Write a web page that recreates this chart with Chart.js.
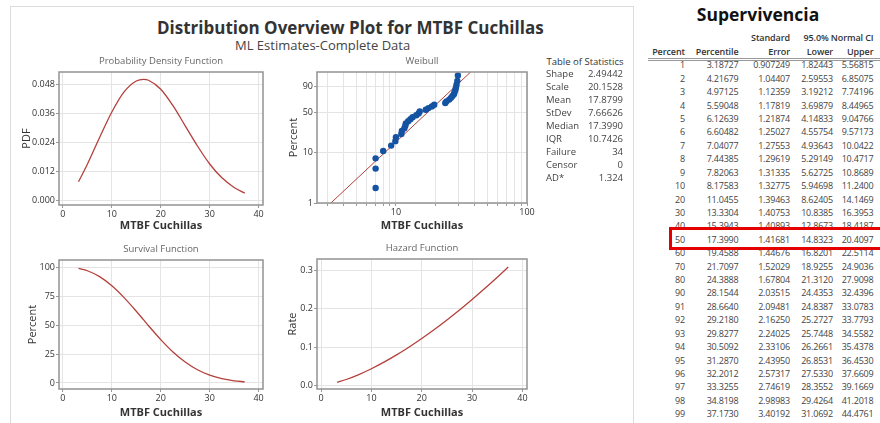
<!DOCTYPE html>
<html>
<head>
<meta charset="utf-8">
<script src="https://cdn.jsdelivr.net/npm/chart.js@4.4.1/dist/chart.umd.min.js"></script>
<style>
  body { margin: 0; background: #fff; font-family: 'Open Sans', sans-serif; }
  #page { position: relative; width: 880px; height: 423px; overflow: hidden; }
  .frame { position: absolute; left: 10px; top: 6px; width: 622px; height: 430px; border: 1px solid #dcdcdc; }
  .t { position: absolute; white-space: nowrap; line-height: 1.2; }
  .c { transform: translate(-50%, -50%); }
  .r { transform: translate(-100%, -50%); }
  .l { transform: translate(0, -50%); }
  .box { position: absolute; }
  #redbox { position: absolute; left: 668.5px; top: 227px; width: 220px; height: 16.5px; border: 3.5px solid #e50000; z-index: 5; }
</style>
</head>
<body>
<div id="page">
  <div class="frame"></div>
  <div class="t l" style="left:157px;top:28px;font-size:17px;font-weight:bold;color:#333">Distribution Overview Plot for MTBF Cuchillas</div>
  <div class="t l" style="left:235px;top:46px;font-size:13px;color:#444">ML Estimates-Complete Data</div>
  <div class="box"><canvas id="pdfChart"></canvas></div>
  <div class="box"><canvas id="weibullChart"></canvas></div>
  <div class="box"><canvas id="survChart"></canvas></div>
  <div class="box"><canvas id="hazChart"></canvas></div>
  <div id="redbox"></div>
</div>
<script>
// Curve values (Weibull fit)
const mtbfX = [3.19, 5, 7.5, 10, 12.5, 15, 16.5, 17.5, 20, 22.5, 25, 27.5, 30, 32.5, 35, 37.17];
const pdfVals = [0.0078, 0.0150, 0.0260, 0.0365, 0.0448, 0.0493, 0.0500, 0.0496, 0.0459, 0.0391, 0.0308, 0.0225, 0.0151, 0.0094, 0.0054, 0.0031];
const survVals = [99.0, 97.0, 91.9, 84.0, 73.8, 62.0, 54.5, 49.5, 37.5, 26.8, 18.1, 11.4, 6.7, 3.7, 1.9, 1.0];
const hazVals = [0.0079, 0.0154, 0.0283, 0.0435, 0.0606, 0.0796, 0.0918, 0.1002, 0.1224, 0.1459, 0.1708, 0.1969, 0.2243, 0.2528, 0.2824, 0.3089];

// Weibull probability plot
const failTimes = [7.0, 7.0, 7.0, 8.0, 9.2, 9.9, 10.0, 11.0, 11.1, 11.6, 11.8, 11.9, 12.4, 12.9, 13.4, 14.3, 14.9, 15.2,
                   16.9, 17.7, 18.8, 19.6, 23.8, 24.3, 25.5, 26.3, 27.0, 27.7, 28.0, 28.4, 28.7, 29.0, 29.4, 29.7];
const rankPct = [2.0, 4.9, 7.8, 10.8, 13.7, 16.6, 19.5, 22.4, 25.3, 28.2, 31.1, 34.0, 36.9, 39.8, 42.7, 45.6, 48.5, 51.5,
                 54.4, 57.3, 60.2, 63.1, 66.0, 68.9, 71.8, 74.7, 77.6, 80.5, 83.4, 86.3, 89.2, 92.2, 95.1, 98.0];
const fitX = [3.19, 37.17];
const fitPct = [1, 99];

// Tick labels
const mtbfTicks = [0, 10, 20, 30, 40];
const pdfTicks = [0, 0.012, 0.024, 0.036, 0.048];
const survTicks = [0, 25, 50, 75, 100];
const hazTicks = [0, 0.1, 0.2, 0.3];
const wbXTicks = [3, 4, 5, 6, 7, 8, 9, 10, 20, 30, 40, 50, 60, 70, 80, 90, 100];
const wbXLabels = [10, 100];
const wbYTicks = [1, 10, 50, 90];

// Table of Statistics
const statNames = ['Shape', 'Scale', 'Mean', 'StDev', 'Median', 'IQR', 'Failure', 'Censor', 'AD*'];
const statVals = ['2.49442', '20.1528', '17.8799', '7.66626', '17.3990', '10.7426', '34', '0', '1.324'];

// Supervivencia table
const pctRows = ['1', '2', '3', '4', '5', '6', '7', '8', '9', '10', '20', '30', '40', '50', '60', '70', '80', '90', '91', '92', '93', '94', '95', '96', '97', '98', '99'];
const percentile = ['3.18727', '4.21679', '4.97125', '5.59048', '6.12639', '6.60482', '7.04077', '7.44385', '7.82063', '8.17583', '11.0455', '13.3304', '15.3943', '17.3990', '19.4588', '21.7097', '24.3888', '28.1544', '28.6640', '29.2180', '29.8277', '30.5092', '31.2870', '32.2012', '33.3255', '34.8198', '37.1730'];
const stdErr = ['0.907249', '1.04407', '1.12359', '1.17819', '1.21874', '1.25027', '1.27553', '1.29619', '1.31335', '1.32775', '1.39463', '1.40753', '1.40893', '1.41681', '1.44676', '1.52029', '1.67804', '2.03515', '2.09481', '2.16250', '2.24025', '2.33106', '2.43950', '2.57317', '2.74619', '2.98983', '3.40192'];
const lowerCI = ['1.82443', '2.59553', '3.19212', '3.69879', '4.14833', '4.55754', '4.93643', '5.29149', '5.62725', '5.94698', '8.62405', '10.8385', '12.8673', '14.8323', '16.8201', '18.9255', '21.3120', '24.4353', '24.8387', '25.2727', '25.7448', '26.2661', '26.8531', '27.5330', '28.3552', '29.4264', '31.0692'];
const upperCI = ['5.56815', '6.85075', '7.74196', '8.44965', '9.04766', '9.57173', '10.0422', '10.4717', '10.8689', '11.2400', '14.1469', '16.3953', '18.4187', '20.4097', '22.5114', '24.9036', '27.9098', '32.4396', '33.0783', '33.7793', '34.5582', '35.4378', '36.4530', '37.6609', '39.1669', '41.2018', '44.4761'];

Chart.defaults.font.family = "'Open Sans', sans-serif";
Chart.defaults.color = '#333';

// Weibull probability scale (percent on ln(-ln(1-p)) axis)
const wbT = p => Math.log(-Math.log(1 - p / 100));
class WeibullScale extends Chart.Scale {
    determineDataLimits() {
        this.min = this.options.min;
        this.max = this.options.max;
    }
    buildTicks() {
        return wbYTicks.map(v => ({ value: v }));
    }
    configure() {
        super.configure();
        this._startValue = wbT(this.min);
        this._valueRange = wbT(this.max) - this._startValue;
    }
    getLabelForValue(v) { return String(v); }
    getPixelForValue(v) {
        return this.getPixelForDecimal((wbT(v) - this._startValue) / this._valueRange);
    }
    getValueForPixel(px) {
        const t = this._startValue + this.getDecimalForPixel(px) * this._valueRange;
        return 100 * (1 - Math.exp(-Math.exp(t)));
    }
}
WeibullScale.id = 'weibull';
WeibullScale.defaults = {};
Chart.register(WeibullScale);

const framePlugin = {
    id: 'frame',
    afterDraw(chart) {
        const a = chart.chartArea, ctx = chart.ctx;
        ctx.save();
        ctx.strokeStyle = '#929292';
        ctx.lineWidth = 1.5;
        ctx.strokeRect(a.left, a.top, a.right - a.left, a.bottom - a.top);
        ctx.restore();
    }
};

const red = '#b4403c';
const gridStyle = { color: '#e4e4e4', tickColor: '#999', tickLength: 3 };

function panel(id, box, title, scales, datasets) {
    const cv = document.getElementById(id);
    const cl = box.l - 50, ct = box.t - 20;
    const w = box.r + 10 - cl, h = box.b + 33 - ct;
    cv.parentElement.style.cssText = `position:absolute;left:${cl}px;top:${ct}px;width:${w}px;height:${h}px`;
    cv.width = w; cv.height = h;
    scales.x.afterFit = s => { s.height = 33; };
    scales.y.afterFit = s => { s.width = 50; };
    for (const k of ['x', 'y']) {
        scales[k].grid = gridStyle;
        scales[k].border = { display: false };
        scales[k].ticks = Object.assign({ font: { size: 9 }, color: '#333', padding: 1, autoSkip: false, maxRotation: 0 }, scales[k].ticks);
    }
    new Chart(cv, {
        type: 'line',
        data: { datasets },
        options: {
            responsive: false,
            animation: false,
            layout: { padding: { left: 0, right: 10, top: 0, bottom: 0 } },
            plugins: {
                legend: { display: false },
                tooltip: { enabled: false },
                title: {
                    display: true, text: title, fullSize: false, color: '#666',
                    font: { size: 9.5, weight: 'normal', lineHeight: 1.2 }, padding: { top: 4, bottom: 4.6 }
                }
            },
            scales
        },
        plugins: [framePlugin]
    });
}

const curve = vals => ({
    data: mtbfX.map((x, i) => ({ x, y: vals[i] })),
    borderColor: red, borderWidth: 1.3, pointRadius: 0, cubicInterpolationMode: 'monotone', fill: false
});
const xTitle = pb => ({ display: true, text: 'MTBF Cuchillas', color: '#333', font: { size: 11, weight: 'bold', lineHeight: 1.2 }, padding: { top: 0, bottom: pb } });
const yTitle = (text, pt) => ({ display: true, text, color: '#333', font: { size: 11, weight: 'normal', lineHeight: 1.2 }, padding: { top: pt, bottom: 0 } });
const mtbfAxis = pb => ({
    type: 'linear', min: -0.8, max: 40.9,
    afterBuildTicks: s => { s.ticks = mtbfTicks.map(v => ({ value: v })); },
    title: xTitle(pb)
});

// Probability Density Function
panel('pdfChart', { l: 59, t: 72, r: 263, b: 205 }, 'Probability Density Function', {
    x: mtbfAxis(5.4),
    y: {
        type: 'linear', min: -0.0018, max: 0.053,
        afterBuildTicks: s => { s.ticks = pdfTicks.map(v => ({ value: v })); },
        ticks: { callback: v => v.toFixed(3) },
        title: yTitle('PDF', 11.4)
    }
}, [curve(pdfVals)]);

// Weibull probability plot
panel('weibullChart', { l: 317, t: 72, r: 527, b: 203 }, 'Weibull', {
    x: {
        type: 'logarithmic', min: 2.5, max: 100,
        afterBuildTicks: s => { s.ticks = wbXTicks.map(v => ({ value: v })); },
        ticks: { callback: v => wbXLabels.includes(v) ? String(v) : '' },
        title: xTitle(3.7)
    },
    y: {
        type: 'weibull', min: 1, max: 99,
        ticks: { callback: v => String(v) },
        title: yTitle('Percent', 20.4)
    }
}, [
    {
        type: 'scatter', order: 0,
        data: failTimes.map((x, i) => ({ x, y: rankPct[i] })),
        backgroundColor: '#1452a2', borderWidth: 0, pointRadius: 3.2, showLine: false
    },
    {
        type: 'line', order: 1,
        data: fitX.map((x, i) => ({ x, y: fitPct[i] })),
        borderColor: red, borderWidth: 1, pointRadius: 0, fill: false
    }
]);

// Survival Function
panel('survChart', { l: 59, t: 260, r: 263, b: 389 }, 'Survival Function', {
    x: mtbfAxis(2.7),
    y: {
        type: 'linear', min: -5.2, max: 106.3,
        afterBuildTicks: s => { s.ticks = survTicks.map(v => ({ value: v })); },
        title: yTitle('Percent', 17.4)
    }
}, [curve(survVals)]);

// Hazard Function
panel('hazChart', { l: 317, t: 259, r: 527, b: 389 }, 'Hazard Function', {
    x: mtbfAxis(2.7),
    y: {
        type: 'linear', min: -0.0094, max: 0.330,
        afterBuildTicks: s => { s.ticks = hazTicks.map(v => ({ value: v })); },
        ticks: { callback: v => v.toFixed(1) },
        title: yTitle('Rate', 19.4)
    }
}, [curve(hazVals)]);

// text helpers
const page = document.getElementById('page');
function put(text, x, y, cls, style) {
    const d = document.createElement('div');
    d.className = 't ' + cls;
    d.style.cssText = `left:${x}px;top:${y}px;` + style;
    d.textContent = text;
    page.appendChild(d);
}

// Table of Statistics
put('Table of Statistics', 585, 62, 'c', 'font-size:9.5px;color:#333');
statNames.forEach((n, i) => {
    const y = 74.3 + 12.9 * i;
    put(n, 546, y, 'l', 'font-size:9.5px;color:#444');
    put(statVals[i], 623, y, 'r', 'font-size:9.5px;color:#444');
});

// Supervivencia table
put('Supervivencia', 758, 14, 'c', 'font-size:17.5px;font-weight:bold;color:#111');
const hdr = 'font-size:9px;font-weight:600;color:#333;letter-spacing:-0.1px';
put('Standard', 790, 38, 'r', hdr);
put('95.0% Normal CI', 873.5, 38, 'r', hdr);
const colRight = [685, 738.5, 790, 833, 873.5];
['Percent', 'Percentile', 'Error', 'Lower', 'Upper'].forEach((h, j) => put(h, colRight[j], 52, 'r', hdr));
const rule = document.createElement('div');
rule.style.cssText = 'position:absolute;left:648px;top:58px;width:232px;height:1px;border-top:1px solid #999;border-bottom:1px solid #999';
page.appendChild(rule);
const cell = 'font-size:9px;color:#444;letter-spacing:-0.2px';
pctRows.forEach((p, i) => {
    const y = 65.3 + 13.42 * i;
    [p, percentile[i], stdErr[i], lowerCI[i], upperCI[i]].forEach((v, j) => put(v, colRight[j], y, 'r', cell));
});
</script>
</body>
</html>
